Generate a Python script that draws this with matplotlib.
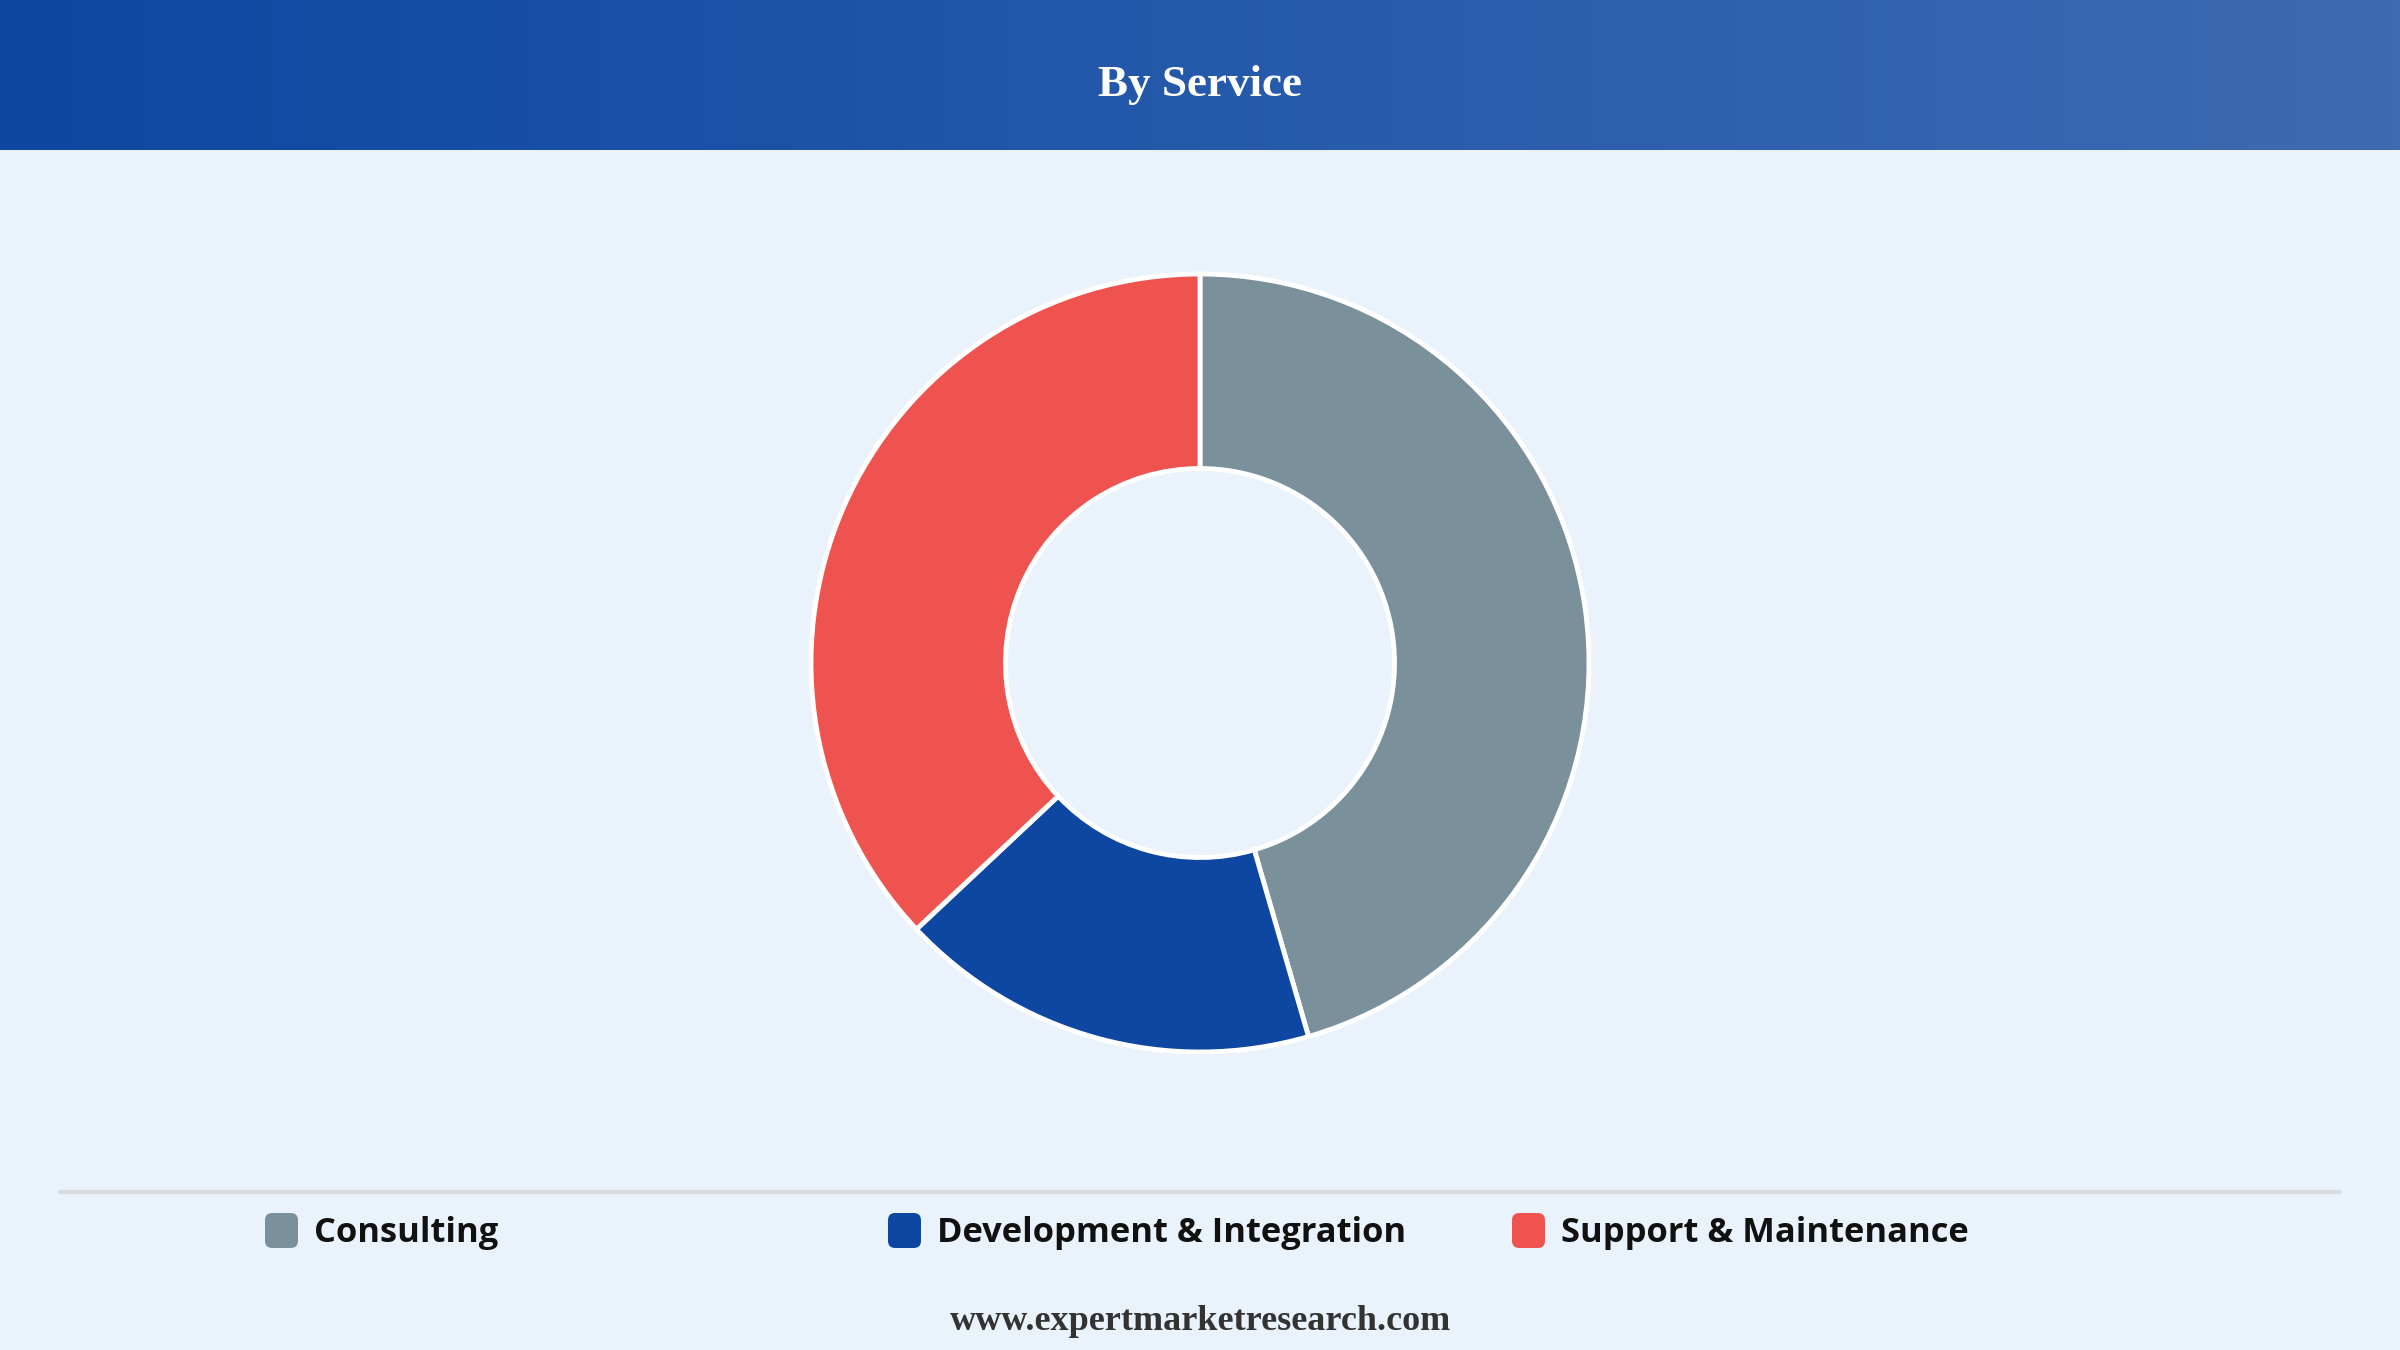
import numpy as np
import matplotlib.pyplot as plt
from matplotlib.patches import FancyBboxPatch
from matplotlib.colors import LinearSegmentedColormap

# ----------------- data -----------------
title = "By Service"
categories = ["Consulting", "Development & Integration", "Support & Maintenance"]
shares = [45.5, 17.5, 37.0]
colors = ["#7a909b", "#0d47a1", "#ef5350"]
footer = "www.expertmarketresearch.com"

W, H = 2400, 1350
fig = plt.figure(figsize=(24, 13.5), dpi=100)
fig.patch.set_facecolor("#eaf2fb")

# header band with horizontal gradient
hdr = fig.add_axes([0, 1 - 150 / H, 1, 150 / H])
grad = np.linspace(0, 1, 512).reshape(1, -1)
cmap = LinearSegmentedColormap.from_list("hdr", ["#0d47a1", "#3d6bb3"])
hdr.imshow(grad, aspect="auto", cmap=cmap, extent=[0, 1, 0, 1])
hdr.set_axis_off()
hdr.text(0.5, 0.435, title, ha="center", va="center", color="white",
         fontsize=32.5, fontweight="bold", family="Liberation Serif",
         transform=hdr.transAxes)

# donut
R = 389  # outer radius, px
cx, cy = 1200, 663
span = 1.1
aw, ah = 2 * R * span / W, 2 * R * span / H
ax = fig.add_axes([cx / W - aw / 2, 1 - cy / H - ah / 2, aw, ah])
ax.pie(shares, colors=colors, startangle=90, counterclock=False, radius=1,
       wedgeprops=dict(width=0.5, edgecolor="white", linewidth=3.5))
ax.set_xlim(-span, span)
ax.set_ylim(-span, span)
ax.set_aspect("equal")
ax.set_axis_off()

# separator line
fig.add_artist(plt.Line2D([60 / W, 2339 / W], [1 - 1192 / H] * 2,
                          color="#d8dce0", linewidth=3))

# legend
leg_x = [265, 888, 1512]
for x0, lab, col in zip(leg_x, categories, colors):
    box = FancyBboxPatch((x0 / W, 1 - 1248 / H), 33 / W, 35 / H,
                         boxstyle="round,pad=0,rounding_size=0.003",
                         transform=fig.transFigure, facecolor=col,
                         edgecolor="none", mutation_aspect=W / H)
    fig.add_artist(box)
    fig.text((x0 + 49) / W, 1 - 1233 / H, lab, ha="left", va="center",
             fontsize=24.8, fontweight="bold", family="Open Sans", color="#111111")

fig.text(0.5, 1 - 1321 / H, footer, ha="center", va="center",
         fontsize=26, fontweight="bold", family="Liberation Serif", color="#333333")

fig.savefig("out.png", dpi=100, facecolor=fig.get_facecolor())
